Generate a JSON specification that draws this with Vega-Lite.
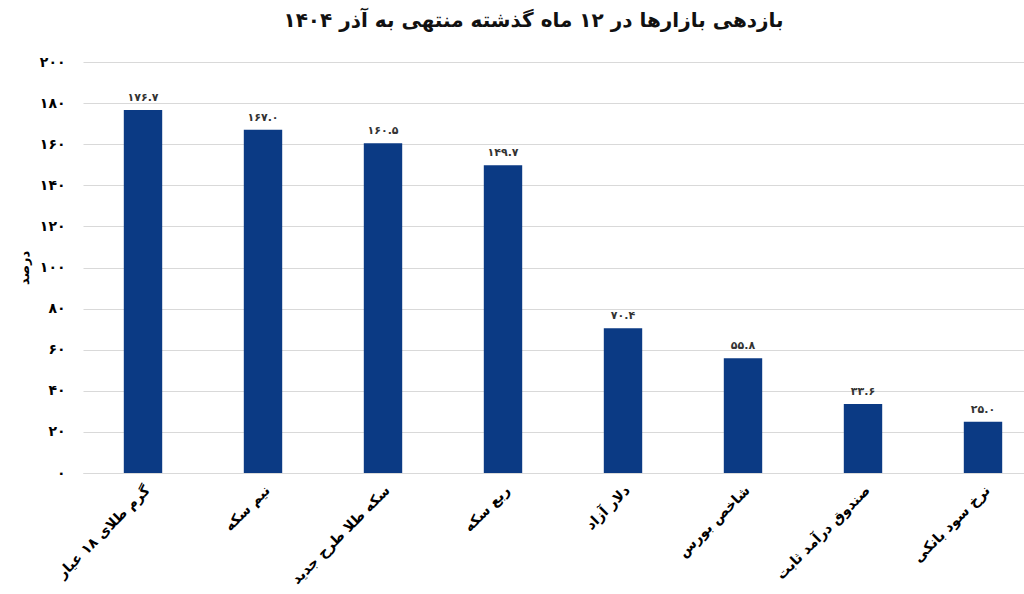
{
  "$schema": "https://vega.github.io/schema/vega-lite/v6.json",
  "autosize": {"type": "none"},
  "width": 941,
  "height": 411,
  "padding": {"left": 83, "top": 62, "right": 0, "bottom": 121},
  "background": "white",
  "title": {
    "text": "بازدهی بازارها در ۱۲ ماه گذشته منتهی به آذر ۱۴۰۴",
    "font": "DejaVu Sans",
    "fontSize": 20,
    "fontWeight": "bold",
    "color": "#111111",
    "anchor": "middle",
    "dx": -20,
    "offset": 24
  },
  "data": {
    "values": [
      {"market": "گرم طلای ۱۸ عیار", "value": 176.7, "label": "۱۷۶.۷"},
      {"market": "نیم سکه", "value": 167.0, "label": "۱۶۷.۰"},
      {"market": "سکه طلا طرح جدید", "value": 160.5, "label": "۱۶۰.۵"},
      {"market": "ربع سکه", "value": 149.7, "label": "۱۴۹.۷"},
      {"market": "دلار آزاد", "value": 70.4, "label": "۷۰.۴"},
      {"market": "شاخص بورس", "value": 55.8, "label": "۵۵.۸"},
      {"market": "صندوق درآمد ثابت", "value": 33.6, "label": "۳۳.۶"},
      {"market": "نرخ سود بانکی", "value": 25.0, "label": "۲۵.۰"}
    ]
  },
  "encoding": {
    "x": {
      "field": "market",
      "type": "nominal",
      "sort": null,
      "scale": {"range": [0, 960], "paddingInner": 0.68, "paddingOuter": 0.34},
      "axis": {
        "title": null,
        "labelAngle": -45,
        "labelFont": "DejaVu Sans",
        "labelFontSize": 14,
        "labelFontWeight": "bold",
        "labelColor": "#000000",
        "labelPadding": 10,
        "ticks": false,
        "domain": true,
        "domainColor": "#d9d9d9",
        "labelLimit": 300
      }
    },
    "y": {
      "field": "value",
      "type": "quantitative",
      "scale": {"domain": [0, 200]},
      "axis": {
        "title": "درصد",
        "titleFont": "DejaVu Sans",
        "titleFontSize": 13,
        "titleFontWeight": "bold",
        "titleColor": "#000000",
        "titlePadding": 8,
        "values": [0, 20, 40, 60, 80, 100, 120, 140, 160, 180, 200],
        "labelExpr": "replace(replace(replace(replace(replace(replace(replace(replace(replace(replace(datum.label, regexp('0','g'), '۰'), regexp('1','g'), '۱'), regexp('2','g'), '۲'), regexp('3','g'), '۳'), regexp('4','g'), '۴'), regexp('5','g'), '۵'), regexp('6','g'), '۶'), regexp('7','g'), '۷'), regexp('8','g'), '۸'), regexp('9','g'), '۹')",
        "labelFont": "DejaVu Sans",
        "labelFontSize": 14,
        "labelFontWeight": "bold",
        "labelColor": "#000000",
        "labelPadding": 18,
        "ticks": false,
        "domain": false,
        "grid": true,
        "gridColor": "#d9d9d9",
        "gridWidth": 1
      }
    }
  },
  "layer": [
    {"mark": {"type": "bar", "color": "#0b3a84"}},
    {
      "mark": {
        "type": "text",
        "dy": -12,
        "font": "DejaVu Sans",
        "fontSize": 11,
        "fontWeight": "bold",
        "color": "#333333"
      },
      "encoding": {"text": {"field": "label"}}
    }
  ],
  "config": {"view": {"stroke": null}}
}
